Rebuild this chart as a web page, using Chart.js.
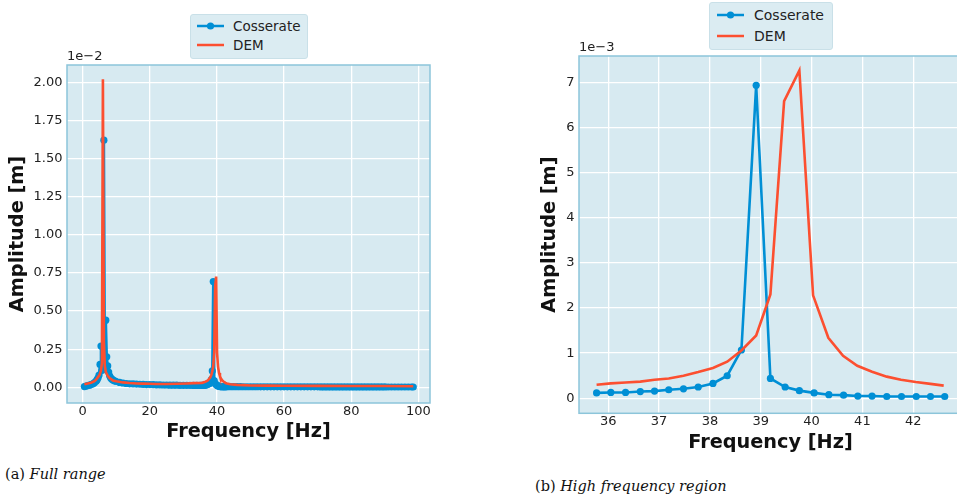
<!DOCTYPE html>
<html>
<head>
<meta charset="utf-8">
<script src="https://cdn.jsdelivr.net/npm/chart.js@4.4.0/dist/chart.umd.min.js"></script>
<style>
  html, body { margin: 0; padding: 0; background: #fff; width: 957px; height: 500px; overflow: hidden; }
  canvas { position: absolute; top: 0; }
  .legend { position: absolute; background: #dbecf2; border: 1px solid #c9e0e8; border-radius: 3px; font-family: "DejaVu Sans"; color: #222; }
  .legend svg { position: absolute; }
  .legend span { position: absolute; white-space: nowrap; line-height: 18px; }
  .cap { position: absolute; font-family: "DejaVu Serif", serif; font-size: 14.5px; color: #111; white-space: nowrap; }
</style>
</head>
<body>
<canvas id="full" width="440" height="460" style="left:0"></canvas>
<canvas id="high" width="452" height="470" style="left:520px"></canvas>

<div class="legend" style="left:190px;top:14px;width:116px;height:43px">
  <svg width="30" height="10" style="left:5px;top:6px"><line x1="1" y1="5" x2="28" y2="5" stroke="#008fd5" stroke-width="2.5"/><circle cx="14.5" cy="5" r="3.6" fill="#008fd5"/></svg>
  <span style="left:42px;top:2px;font-size:13.5px">Cosserate</span>
  <svg width="30" height="10" style="left:5px;top:25px"><line x1="1" y1="5" x2="28" y2="5" stroke="#fc4f30" stroke-width="2.5"/></svg>
  <span style="left:42px;top:21px;font-size:13.5px">DEM</span>
</div>
<div class="legend" style="left:709px;top:2px;width:122px;height:46px">
  <svg width="30" height="10" style="left:6px;top:7px"><line x1="1" y1="5" x2="28" y2="5" stroke="#008fd5" stroke-width="2.5"/><circle cx="14.5" cy="5" r="3.6" fill="#008fd5"/></svg>
  <span style="left:44px;top:3px;font-size:14px">Cosserate</span>
  <svg width="30" height="10" style="left:6px;top:28px"><line x1="1" y1="5" x2="28" y2="5" stroke="#fc4f30" stroke-width="2.5"/></svg>
  <span style="left:44px;top:24px;font-size:14px">DEM</span>
</div>

<div class="cap" style="left:5px;top:466px">(a) <i>Full range</i></div>
<div class="cap" style="left:535px;top:478px">(b) <i>High frequency region</i></div>

<script>
// amplitudes in mm (1e-3 m), frequencies in Hz
const cosFreqLow = [0.5, 1, 1.5, 2, 2.5, 3, 3.5, 4, 4.3, 4.59, 4.87, 5.16, 5.45, 5.73, 6.02, 6.31, 6.59, 6.88, 7.16, 7.45, 7.74, 8.02, 8.31, 8.6, 9, 9.5, 10,
  11, 12, 13, 14, 15, 16, 17, 18, 19, 20, 21, 22, 23, 24, 25, 26, 27, 28, 29, 30, 31, 32, 33, 34, 35, 35.48];
const cosAmpLow = [0.05, 0.08, 0.11, 0.14, 0.18, 0.22, 0.30, 0.40, 0.50, 0.62, 0.80, 1.50, 2.70, 1.10, 1.30, 16.2, 1.20, 4.40, 2.00, 1.40, 1.00, 0.75, 0.62, 0.55, 0.48, 0.42, 0.38,
  0.32, 0.28, 0.25, 0.23, 0.22, 0.21, 0.20, 0.19, 0.18, 0.18, 0.17, 0.16, 0.16, 0.15, 0.15, 0.14, 0.14, 0.14, 0.13, 0.13, 0.13, 0.13, 0.12, 0.12, 0.12, 0.12];
const cosFreqPeak = [35.77, 36.05, 36.34, 36.63, 36.91, 37.19, 37.48, 37.77, 38.06, 38.34, 38.62, 38.91, 39.19, 39.48, 39.76, 40.05, 40.34, 40.63, 40.91, 41.19, 41.48, 41.77, 42.06, 42.34, 42.62];
const cosAmpPeak = [0.12, 0.13, 0.13, 0.15, 0.16, 0.19, 0.21, 0.25, 0.33, 0.50, 1.07, 6.93, 0.44, 0.25, 0.17, 0.12, 0.08, 0.07, 0.05, 0.05, 0.04, 0.04, 0.04, 0.04, 0.04];
const cosFreqTail = [43, 44, 45, 46, 47, 48, 49, 50, 51, 52, 53, 54, 55, 56, 57, 58, 59, 60, 61, 62, 63, 64, 65, 66, 67, 68, 69, 70,
  71, 72, 73, 74, 75, 76, 77, 78, 79, 80, 81, 82, 83, 84, 85, 86, 87, 88, 89, 90, 91, 92, 93, 94, 95, 96, 97, 98, 98.5];
const cosAmpTail = [0.04, 0.04, 0.04, 0.04, 0.04, 0.035, 0.035, 0.035, 0.035, 0.035, 0.03, 0.03, 0.03, 0.03, 0.03, 0.03, 0.03, 0.03,
  0.03, 0.03, 0.03, 0.03, 0.03, 0.03, 0.03, 0.03, 0.03, 0.03, 0.025, 0.025, 0.025, 0.025, 0.025, 0.025, 0.025, 0.025, 0.025, 0.025,
  0.025, 0.025, 0.025, 0.025, 0.025, 0.025, 0.025, 0.025, 0.025, 0.025, 0.02, 0.02, 0.02, 0.02, 0.02, 0.02, 0.02, 0.02, 0.02];

const demFreqLow = [0.5, 1.5, 2.5, 3.5, 4, 4.5, 5, 5.45, 5.73, 6.02, 6.31, 6.59, 6.88, 7.45, 8, 9, 10, 12, 14, 16, 18, 20, 22, 25, 28, 31, 33, 35.48];
const demAmpLow = [0.20, 0.25, 0.30, 0.40, 0.50, 0.65, 0.80, 1.10, 1.60, 20.2, 3.0, 1.40, 1.00, 0.75, 0.60, 0.45, 0.40, 0.32, 0.28, 0.25, 0.24, 0.23, 0.22, 0.22, 0.23, 0.25, 0.27, 0.29];
const demFreqPeak = [35.77, 36.05, 36.34, 36.63, 36.91, 37.19, 37.48, 37.77, 38.06, 38.34, 38.62, 38.91, 39.19, 39.46, 39.76, 40.03, 40.33, 40.62, 40.9, 41.19, 41.48, 41.76, 42.05, 42.34, 42.6];
const demAmpPeak = [0.30, 0.33, 0.35, 0.37, 0.41, 0.44, 0.50, 0.58, 0.67, 0.81, 1.06, 1.39, 2.30, 6.58, 7.26, 2.28, 1.34, 0.94, 0.72, 0.59, 0.48, 0.41, 0.36, 0.32, 0.28];
const demFreqTail = [43, 44, 46, 48, 50, 55, 60, 70, 80, 90, 98.5];
const demAmpTail = [0.25, 0.20, 0.16, 0.14, 0.12, 0.11, 0.10, 0.09, 0.08, 0.08, 0.07];

const fullXTicks = [0, 20, 40, 60, 80, 100];
const fullYTicks = [0, 2.5, 5, 7.5, 10, 12.5, 15, 17.5, 20];   // shown as 1e-2 m
const highXTicks = [36, 37, 38, 39, 40, 41, 42];
const highYTicks = [0, 1, 2, 3, 4, 5, 6, 7];                   // shown as 1e-3 m

const BLUE = "#008fd5";
const RED = "#fc4f30";
const FONT = "DejaVu Sans";

function pairs(xs, ys) {
  return xs.map((x, i) => ({ x: x, y: ys[i] }));
}
const cosAll = pairs(cosFreqLow.concat(cosFreqPeak, cosFreqTail), cosAmpLow.concat(cosAmpPeak, cosAmpTail));
const demAll = pairs(demFreqLow.concat(demFreqPeak, demFreqTail), demAmpLow.concat(demAmpPeak, demAmpTail));
const inHigh = p => p.x > 35.6 && p.x < 42.7;

function framePlugin(offsetText) {
  return {
    id: "frame",
    beforeDraw(chart) {
      const a = chart.chartArea, ctx = chart.ctx;
      ctx.save();
      ctx.fillStyle = "#d7eaf1";
      ctx.fillRect(a.left, a.top, a.width, a.height);
      ctx.restore();
    },
    afterDraw(chart) {
      const a = chart.chartArea, ctx = chart.ctx;
      ctx.save();
      ctx.strokeStyle = "#8cc5da";
      ctx.lineWidth = 1.5;
      ctx.strokeRect(a.left, a.top, a.width, a.height);
      ctx.fillStyle = "#222";
      ctx.font = "13px '" + FONT + "'";
      ctx.textBaseline = "middle";
      ctx.fillText(offsetText, a.left, a.top - 8);
      ctx.restore();
    }
  };
}

function makeChart(id, cfg) {
  return new Chart(document.getElementById(id), {
    type: "line",
    data: {
      datasets: [
        { label: "Cosserate", data: cfg.cos, borderColor: BLUE, backgroundColor: BLUE, borderWidth: 2.6,
          pointRadius: 3.6, pointBorderWidth: 0, pointBackgroundColor: BLUE, order: 1 },
        { label: "DEM", data: cfg.dem, borderColor: RED, backgroundColor: RED, borderWidth: 2.6,
          pointRadius: 0, order: 0 }
      ]
    },
    options: {
      responsive: false,
      animation: false,
      layout: { padding: { top: cfg.top, right: 10, left: 0, bottom: 0 } },
      plugins: { legend: { display: false }, tooltip: { enabled: false } },
      scales: {
        x: {
          type: "linear", min: cfg.xMin, max: cfg.xMax,
          afterBuildTicks: s => { s.ticks = cfg.xTicks.map(v => ({ value: v })); },
          afterFit: s => { s.height = cfg.xHeight; },
          ticks: { color: "#222", font: { family: FONT, size: 13 }, padding: 1, maxRotation: 0,
                   callback: v => String(v) },
          grid: { color: "#ffffff", lineWidth: 1.3, drawTicks: false },
          border: { display: false },
          title: { display: true, text: "Frequency [Hz]", color: "#111",
                   font: { family: FONT, size: 19.3, weight: "bold" }, padding: { top: 0, bottom: cfg.xTitlePad } }
        },
        y: {
          type: "linear", min: cfg.yMin, max: cfg.yMax,
          afterBuildTicks: s => { s.ticks = cfg.yTicks.map(v => ({ value: v })); },
          afterFit: s => { s.width = cfg.yWidth; },
          ticks: { color: "#222", font: { family: FONT, size: 13 }, padding: 4.5, callback: cfg.yLabel },
          grid: { color: "#ffffff", lineWidth: 1.3, drawTicks: false },
          border: { display: false },
          title: { display: true, text: "Amplitude [m]", color: "#111",
                   font: { family: FONT, size: 19.3, weight: "bold" }, padding: { top: cfg.yTitlePad, bottom: 0 } }
        }
      }
    },
    plugins: [framePlugin(cfg.offset)]
  });
}

makeChart("full", {
  cos: cosAll, dem: demAll,
  top: 65, xHeight: 57, xTitlePad: 16.4, yWidth: 67, yTitlePad: 6,
  xMin: -4.68, xMax: 103.49, yMin: -1.03, yMax: 21.13,
  xTicks: fullXTicks, yTicks: fullYTicks,
  yLabel: v => (v / 10).toFixed(2),
  offset: "1e\u22122"
});

makeChart("high", {
  cos: cosAll.filter(inHigh), dem: demAll.filter(inHigh),
  top: 56, xHeight: 56.7, xTitlePad: 15, yWidth: 59, yTitlePad: 18.4,
  xMin: 35.424, xMax: 42.96, yMin: -0.332, yMax: 7.58,
  xTicks: highXTicks, yTicks: highYTicks,
  yLabel: v => String(Math.round(v)),
  offset: "1e\u22123"
});
</script>
</body>
</html>
